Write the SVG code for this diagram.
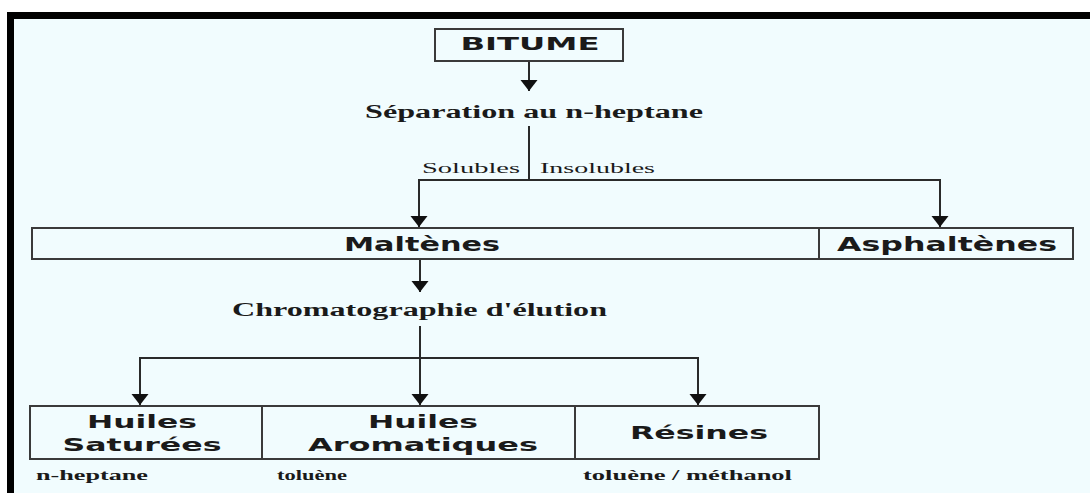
<svg xmlns="http://www.w3.org/2000/svg" width="1090" height="493" viewBox="0 0 1090 493">
<style>
.box{fill:none;stroke:#3a3a3a;stroke-width:2}
.ln{fill:none;stroke:#2a2a2a;stroke-width:2}
.t{font-family:"DejaVu Sans","Verdana",sans-serif;font-weight:bold;fill:#1a1a1a;text-anchor:middle}
.s{font-family:"Liberation Serif","Times New Roman",serif;font-weight:bold;fill:#1a1a1a}
.r{font-family:"Liberation Serif","Times New Roman",serif;fill:#1a1a1a}
</style>
<defs>
<marker id="ah" markerUnits="userSpaceOnUse" markerWidth="12" markerHeight="18" refX="11" refY="8.5" orient="auto">
<path d="M0,0 L11,8.5 L0,17 Z" fill="#111"/>
</marker>
</defs>
<rect x="0" y="0" width="1090" height="493" fill="#ffffff"/>
<rect x="10" y="15" width="1080" height="478" fill="#f1fcfe"/>
<path d="M10.5,493 V15.5 H1090" fill="none" stroke="#000" stroke-width="7"/>

<g id="connectors">
<line class="ln" x1="529" y1="61" x2="529" y2="91" marker-end="url(#ah)"/>
<polyline class="ln" points="529,126 529,180"/>
<polyline class="ln" points="529,180 419,180 419,227" marker-end="url(#ah)"/>
<polyline class="ln" points="529,180 940,180 940,227" marker-end="url(#ah)"/>
<line class="ln" x1="420" y1="260" x2="420" y2="292" marker-end="url(#ah)"/>
<polyline class="ln" points="420,326 420,405" marker-end="url(#ah)"/>
<polyline class="ln" points="420,358 140,358 140,405" marker-end="url(#ah)"/>
<polyline class="ln" points="420,358 698,358 698,405" marker-end="url(#ah)"/>
<text class="r" x="422" y="173" font-size="14" textLength="98" lengthAdjust="spacingAndGlyphs">Solubles</text>
<text class="r" x="540" y="173" font-size="14" textLength="115" lengthAdjust="spacingAndGlyphs">Insolubles</text>
</g>

<g id="bitume">
<rect class="box" x="435" y="29" width="188" height="32"/>
<text class="t" x="530" y="50" font-size="17" textLength="139" lengthAdjust="spacingAndGlyphs">BITUME</text>
</g>
<g id="separation">
<text class="s" x="365" y="118" font-size="18" textLength="338" lengthAdjust="spacingAndGlyphs">Séparation au n-heptane</text>
</g>
<g id="maltenes">
<rect class="box" x="32" y="228" width="787" height="31"/>
<text class="t" x="422" y="251" font-size="19" textLength="156" lengthAdjust="spacingAndGlyphs">Maltènes</text>
</g>
<g id="asphaltenes">
<rect class="box" x="819" y="228" width="254" height="31"/>
<text class="t" x="947" y="251" font-size="19" textLength="220" lengthAdjust="spacingAndGlyphs">Asphaltènes</text>
</g>
<g id="chromatographie">
<text class="s" x="232" y="316" font-size="18" textLength="375" lengthAdjust="spacingAndGlyphs">Chromatographie d'élution</text>
</g>
<g id="saturees">
<rect class="box" x="30" y="406" width="232" height="53"/>
<text class="t" x="142" y="428" font-size="18" textLength="110" lengthAdjust="spacingAndGlyphs">Huiles</text>
<text class="t" x="142" y="451" font-size="18" textLength="159" lengthAdjust="spacingAndGlyphs">Saturées</text>
<text class="s" x="36" y="480" font-size="14" textLength="112" lengthAdjust="spacingAndGlyphs">n-heptane</text>
</g>
<g id="aromatiques">
<rect class="box" x="262" y="406" width="313" height="53"/>
<text class="t" x="423" y="428" font-size="18" textLength="110" lengthAdjust="spacingAndGlyphs">Huiles</text>
<text class="t" x="423" y="451" font-size="18" textLength="230" lengthAdjust="spacingAndGlyphs">Aromatiques</text>
<text class="s" x="277" y="480" font-size="14" textLength="70" lengthAdjust="spacingAndGlyphs">toluène</text>
</g>
<g id="resines">
<rect class="box" x="575" y="406" width="244" height="53"/>
<text class="t" x="699" y="439" font-size="18" textLength="138" lengthAdjust="spacingAndGlyphs">Résines</text>
<text class="s" x="583" y="480" font-size="14" textLength="209" lengthAdjust="spacingAndGlyphs">toluène / méthanol</text>
</g>
</svg>
